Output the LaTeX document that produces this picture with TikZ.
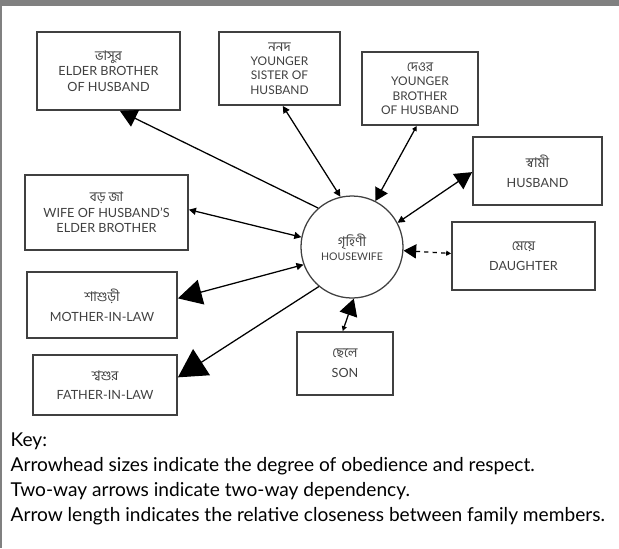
\documentclass[tikz,border=0pt]{standalone}
\usepackage{fontspec}
\setmainfont{Lato}
\newfontfamily\bnfont[Script=Bengali]{Hind Siliguri}
\usepackage{tikz}
\usetikzlibrary{shapes,arrows.meta}
\definecolor{scan}{gray}{0.25}
\definecolor{frame}{gray}{0.5}
\newcommand{\bng}[1]{{\bnfont\fontsize{9.5}{10}\selectfont #1}}
\tikzset{
	member/.style  = {draw=scan, line width=1.3pt, rectangle, align=center,
		inner sep=1pt, text=scan, font=\fontsize{9}{11}\selectfont},
	tight/.style   = {font=\fontsize{8.5}{10.3}\selectfont},
	hwife/.style   = {draw=scan, line width=0.9pt, circle, align=center,
		minimum size=2.55cm, inner sep=0pt, text=scan,
		font=\fontsize{7.5}{10}\selectfont},
	key/.style     = {anchor=north west, align=left, inner sep=0pt,
		font=\fontsize{13.6}{17.8}\selectfont},
	wee/.tip  = {Triangle[length=3.5pt,width=3.5pt]},
	sml/.tip  = {Triangle[length=5pt,width=5pt]},
	mid/.tip  = {Triangle[length=9pt,width=10pt]},
	lrg/.tip  = {Triangle[length=12pt,width=13pt]},
	big/.tip  = {Triangle[length=17pt,width=18pt]},
	huge/.tip = {Triangle[length=20pt,width=22pt]}
}

\begin{document}
\begin{tikzpicture}[auto, line width=0.9pt]
	\useasboundingbox (0,0) rectangle (15.475,-13.7);
	\fill[frame] (0,0) rectangle (15.475,-0.15);
	\draw[frame, line width=1.4pt] (0.025,0) -- (0.025,-13.7);
	\draw
	node at (8.8,-6.175) [hwife] (hw) {\bng{গৃহিণী}\\HOUSEWIFE}
	node at (2.7125,-1.775) [member, minimum width=3.575cm, minimum height=1.95cm] (ebh)
		{\bng{ভাসুর}\\ELDER BROTHER\\OF HUSBAND}
	node at (6.9875,-1.7125) [member, tight, minimum width=3.025cm, minimum height=1.825cm] (ysh)
		{\bng{ননদ}\\YOUNGER\\SISTER OF\\HUSBAND}
	node at (10.5,-2.2125) [member, tight, minimum width=2.9cm, minimum height=1.825cm] (ybh)
		{\bng{দেওর}\\YOUNGER\\BROTHER\\OF HUSBAND}
	node at (13.4375,-4.275) [member, minimum width=3.225cm, minimum height=1.7cm] (hus)
		{\bng{স্বামী}\\[3pt]HUSBAND}
	node at (13.0875,-6.4) [member, minimum width=3.575cm, minimum height=1.7cm] (dau)
		{\bng{মেয়ে}\\[3pt]DAUGHTER}
	node at (8.625,-9.0875) [member, minimum width=2.4cm, minimum height=1.575cm] (son)
		{\bng{ছেলে}\\[3pt]SON}
	node at (2.6625,-5.3125) [member, minimum width=4.075cm, minimum height=1.875cm] (web)
		{\bng{বড় জা}\\WIFE OF HUSBAND'S\\ELDER BROTHER}
	node at (2.55,-7.625) [member, minimum width=3.75cm, minimum height=1.65cm] (mil)
		{\bng{শাশুড়ী}\\[3pt]MOTHER-IN-LAW}
	node at (2.625,-9.625) [member, minimum width=3.6cm, minimum height=1.5cm] (fil)
		{\bng{শ্বশুর}\\[3pt]FATHER-IN-LAW}
	;
	\draw[-lrg](hw.131)--(ebh.-74);
	\draw[sml-sml](hw.103)--(ysh.-85);
	\draw[mid-wee](hw.63)--(ybh.-95);
	\draw[sml-lrg](hw.28)--(hus.181);
	\draw[mid-wee, dashed](hw.-4)--(dau.178);
	\draw[lrg-wee](hw.-88)--(son.94);
	\draw[sml-sml](hw.169)--(web.2);
	\draw[sml-big](hw.200)--(mil.5);
	\draw[-huge](hw.230)--(fil.6);
	\node[key] (key) at (0.25,-10.8) {Key:\\
		Arrowhead sizes indicate the degree of obedience and respect.\\
		Two-way arrows indicate two-way dependency.\\
		Arrow length indicates the relative closeness between family members.};
\end{tikzpicture}
\end{document}
